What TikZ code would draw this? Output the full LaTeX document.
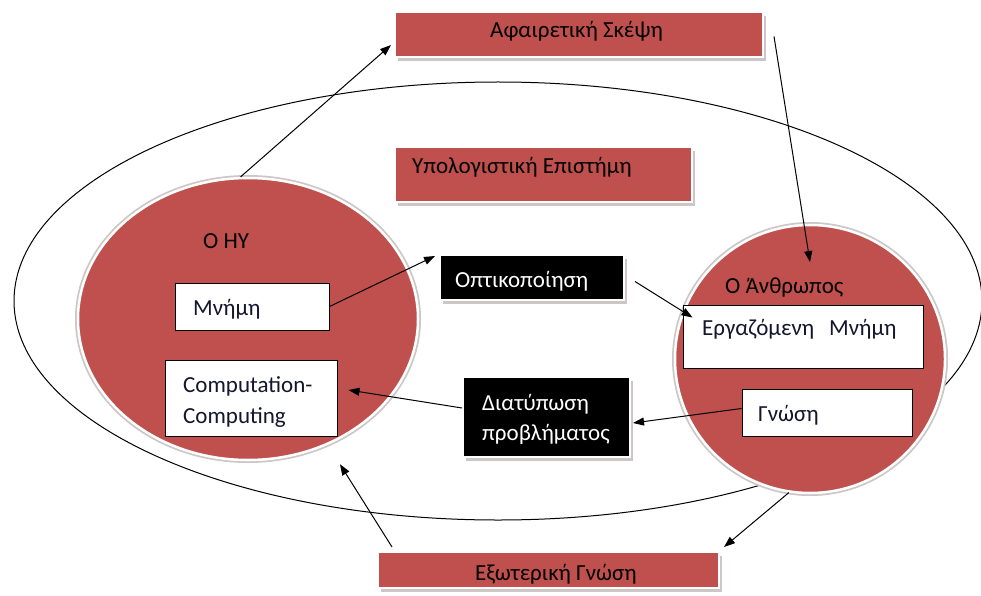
\documentclass[tikz,border=0pt]{standalone}
\usepackage{fontspec}
\setmainfont{Carlito}
\usetikzlibrary{arrows.meta,shadows,calc,shapes.geometric}
\definecolor{accent}{HTML}{C0504D}
\definecolor{shade}{HTML}{CCC6C6}
\definecolor{ink}{HTML}{15152E}

\begin{document}
\begin{tikzpicture}[x=1pt,y=-1pt,
  font=\fontsize{23}{30}\selectfont,
  panel/.style={rectangle, draw=white, line width=2pt, inner sep=0pt,
    drop shadow={shadow xshift=3pt, shadow yshift=-4pt, fill=shade, opacity=1}},
  redpanel/.style={panel, fill=accent},
  darkpanel/.style={panel, fill=black},
  memobox/.style={rectangle, draw=black, line width=1pt, fill=white, inner sep=0pt},
  disc/.style={ellipse, fill=accent, draw=white, line width=2.5pt, inner sep=0pt,
    preaction={draw=shade, line width=6pt}},
  txt/.style={inner sep=0pt, anchor=base west},
  link/.style={-{Triangle[length=11pt,width=8pt]}, line width=1pt},
]
\useasboundingbox (0,0) rectangle (981,596);
\fill[white] (0,0) rectangle (981,596);
\clip (0,0) rectangle (981,596);

% outer field
\draw[line width=1pt] (498,301) ellipse [x radius=484, y radius=219];

% the two agents
\node[disc, minimum width=340pt, minimum height=282pt] (hy) at (248,319) {};
\node[disc, minimum width=270pt, minimum height=268pt] (hum) at (810,359) {};

% red panels
\node[redpanel, minimum width=368pt, minimum height=45pt] (abs) at (579,34.5) {};
\node[redpanel, minimum width=297pt, minimum height=55pt] (sci) at (543.5,174.5) {};
\node[redpanel, minimum width=341pt, minimum height=36pt] (ext) at (548.5,570) {};

% black panels
\node[darkpanel, minimum width=184pt, minimum height=45pt] (opt) at (532,277.5) {};
\node[darkpanel, minimum width=167pt, minimum height=80pt] (diat) at (546.5,417) {};

% white boxes
\node[memobox, minimum width=154pt, minimum height=47pt] (mem) at (252,306.5) {};
\node[memobox, minimum width=172pt, minimum height=76pt] (comp) at (251,398) {};
\node[memobox, minimum width=240pt, minimum height=63pt] (ergo) at (803,336.5) {};
\node[memobox, minimum width=170pt, minimum height=47pt] (gnosi) at (827,412.5) {};

% texts
\node[txt] (abstxt) at (490,38) {Αφαιρετική Σκέψη};
\node[txt] (scitxt) at (412,173) {Υπολογιστική Επιστήμη};
\node[txt] (hytxt) at (203,248) {Ο ΗΥ};
\node[txt, text=ink] (memtxt) at (193,315) {Μνήμη};
\node[txt, text=ink] (comptxta) at (183,392) {Computation-};
\node[txt, text=ink] (comptxtb) at (183,423) {Computing};
\node[txt, text=white] (opttxt) at (455,287) {Οπτικοποίηση};
\node[txt, text=white] (diattxta) at (482,410) {Διατύπωση};
\node[txt, text=white] (diattxtb) at (482,440) {προβλήματος};
\node[txt] (humtxt) at (725,293) {Ο Άνθρωπος};
\node[txt, text=ink] (ergotxt) at (702,335) {Εργαζόμενη\hspace{15pt}Μνήμη};
\node[txt, text=ink] (gnositxt) at (758,421) {Γνώση};
\begin{scope}
  \clip (ext.north west) rectangle ($(ext.east)+(0,13)$);
  \node[txt] (exttxt) at (475,580) {Εξωτερική Γνώση};
\end{scope}

% connectors
\coordinate (absin) at (391,45);
\coordinate (humin) at (810,262);
\draw[link] (hy.93) -- (absin);
\draw[link] ($(abs.east)+(10,2)$) -- (humin);
\draw[link] (mem.east) -- ($(opt.north west)+(-4,2)$);
\draw[link] ($(opt.east)+(10,4)$) -- ($(ergo.north west)+(10,13)$);
\draw[link] ($(gnosi.west)+(0,-4)$) -- ($(diat.east)+(2,6)$);
\draw[link] ($(diat.west)+(0,-9)$) -- ($(comp.east)+(11,-8)$);
\draw[link] (hum.261) -- ($(ext.north east)+(4,-4)$);
\draw[link] ($(ext.north west)+(15,-4)$) -- ($(hy.south)+(92,3)$);
\end{tikzpicture}
\end{document}
